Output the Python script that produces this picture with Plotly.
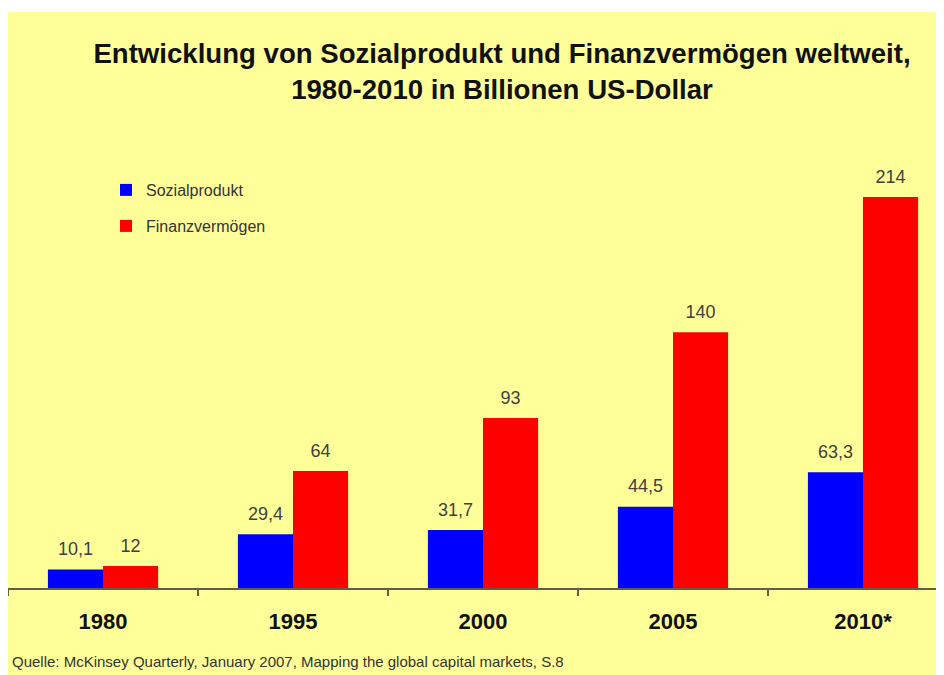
import plotly.graph_objects as go

categories = ["1980", "1995", "2000", "2005", "2010*"]
sozialprodukt = [10.1, 29.4, 31.7, 44.5, 63.3]
finanzvermoegen = [12, 64, 93, 140, 214]
sozial_labels = ["10,1", "29,4", "31,7", "44,5", "63,3"]
finanz_labels = ["12", "64", "93", "140", "214"]

BG = "#FFFF99"
W, H = 928, 667
ML, MR, MT, MB = 0, 0, 142, 87
CAT_PX = 190
plot_w = W - ML - MR
plot_h = H - MT - MB
PX_PER_UNIT = 1.827
BARGAP = 0.42


def px_x(px):
    return (px - ML) / plot_w


def px_y(py):
    return (H - MB - py) / plot_h


label_font = dict(family="Liberation Sans, Arial", size=18, color="#404040")

fig = go.Figure()
fig.add_trace(go.Bar(
    x=categories, y=sozialprodukt, name="Sozialprodukt",
    marker=dict(color="#0000FF", line=dict(width=0)),
    legend="legend", hoverinfo="x+y",
))
fig.add_trace(go.Bar(
    x=categories, y=finanzvermoegen, name="Finanzvermögen",
    marker=dict(color="#FF0000", line=dict(width=0)),
    legend="legend2", hoverinfo="x+y",
))
# value labels, grouped like the bars
fig.add_trace(go.Scatter(
    x=categories, y=sozialprodukt, text=sozial_labels, mode="markers+text",
    textposition="top center", textfont=label_font,
    marker=dict(size=14, opacity=0), showlegend=False, cliponaxis=False,
    hoverinfo="skip",
))
fig.add_trace(go.Scatter(
    x=categories, y=finanzvermoegen, text=finanz_labels, mode="markers+text",
    textposition="top center", textfont=label_font,
    marker=dict(size=14, opacity=0), showlegend=False, cliponaxis=False,
    hoverinfo="skip",
))

legend_font = dict(family="Liberation Sans, Arial", size=16, color="#333333")
fig.update_layout(
    width=W, height=H,
    margin=dict(l=ML, r=MR, t=MT, b=MB),
    paper_bgcolor=BG, plot_bgcolor=BG,
    barmode="group", bargap=BARGAP, bargroupgap=0,
    scattermode="group", scattergap=BARGAP,
    showlegend=True,
    legend=dict(x=px_x(98), y=px_y(182), xanchor="left", yanchor="middle",
                bgcolor="rgba(0,0,0,0)", font=legend_font),
    legend2=dict(x=px_x(98), y=px_y(218), xanchor="left", yanchor="middle",
                 bgcolor="rgba(0,0,0,0)", font=legend_font),
    title=dict(
        text="Entwicklung von Sozialprodukt und Finanzvermögen weltweit,<br>1980-2010 in Billionen US-Dollar",
        x=494 / W, xanchor="center", xref="container",
        y=1 - 55 / H, yanchor="middle", yref="container",
        font=dict(family="Liberation Sans, Arial", size=27.6, color="#111111", weight="bold"),
    ),
    xaxis=dict(
        type="category", range=[-0.5, -0.5 + plot_w / CAT_PX],
        tickson="boundaries", ticks="outside", ticklen=6, tickwidth=1.5, tickcolor="#606040",
        showline=True, linecolor="#606040", linewidth=1.5,
        showgrid=False, zeroline=False,
        tickfont=dict(family="Liberation Sans, Arial", size=22, color="#111111", weight="bold"),
        ticklabelstandoff=13,
    ),
    yaxis=dict(range=[0, plot_h / PX_PER_UNIT], visible=False, showgrid=False, zeroline=False),
    annotations=[dict(
        text="Quelle: McKinsey Quarterly, January 2007, Mapping the global capital markets, S.8",
        xref="paper", yref="paper", x=px_x(2), y=px_y(653),
        xanchor="left", yanchor="middle", showarrow=False,
        font=dict(family="Liberation Sans, Arial", size=15, color="#333333"),
    )],
    shapes=[
        dict(type="rect", xref="paper", yref="paper", x0=px_x(-5), x1=px_x(W + 5),
             y0=px_y(4), y1=px_y(-5), fillcolor="white", line=dict(width=0), layer="above"),
    ],
)

fig.write_html("out.html")
